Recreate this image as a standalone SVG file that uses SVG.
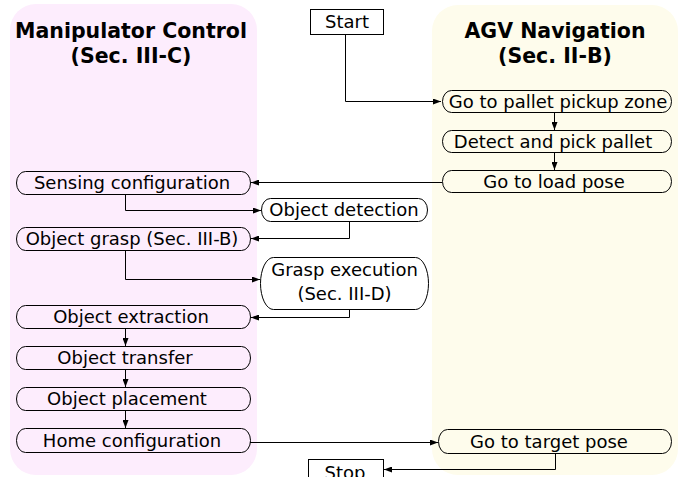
<svg xmlns="http://www.w3.org/2000/svg" width="686" height="477" viewBox="0 0 686 477">
  <style>
    .lane-m { fill: #fdedfd; }
    .lane-a { fill: #fefcec; }
    .title { font-family: "DejaVu Sans", sans-serif; font-size: 20.5px; font-weight: bold; fill: #000; text-anchor: middle; }
    .lbl { font-family: "DejaVu Sans", sans-serif; font-size: 18px; fill: #000; text-anchor: middle; }
    .pill { fill: none; stroke: #000; stroke-width: 1; }
    .box { fill: #fff; stroke: #000; stroke-width: 1; }
    .edge { fill: none; stroke: #000; stroke-width: 1; marker-end: url(#arrow); }
  </style>
  <defs>
    <marker id="arrow" viewBox="0 0 8 6" refX="8" refY="3" markerWidth="8" markerHeight="6" markerUnits="userSpaceOnUse" orient="auto">
      <path d="M0,0 L8,3 L0,6 Z" fill="#000"/>
    </marker>
  </defs>

  <rect width="686" height="477" fill="#fff"/>

  <!-- swimlanes -->
  <g id="lane-manipulator">
    <rect class="lane-m" x="10" y="4" width="247" height="471" rx="26" ry="26"/>
    <text class="title" x="131" y="38">Manipulator Control</text>
    <text class="title" x="131" y="63">(Sec. III-C)</text>
  </g>
  <g id="lane-agv">
    <rect class="lane-a" x="432" y="5" width="246" height="470" rx="26" ry="26"/>
    <text class="title" x="555" y="38">AGV Navigation</text>
    <text class="title" x="555" y="63">(Sec. II-B)</text>
  </g>

  <!-- connectors -->
  <g id="connectors">
    <path class="edge" d="M345.5,34 V101.5 H441"/>
    <path class="edge" d="M554.5,112 V130"/>
    <path class="edge" d="M554.5,152 V170"/>
    <path class="edge" d="M442,182.5 H251"/>
    <path class="edge" d="M125.5,195 V210.5 H261"/>
    <path class="edge" d="M349.5,222 V238.5 H251"/>
    <path class="edge" d="M125.5,251 V279.5 H260"/>
    <path class="edge" d="M349.5,310 V317.5 H251"/>
    <path class="edge" d="M125.5,329 V346"/>
    <path class="edge" d="M125.5,370 V387"/>
    <path class="edge" d="M125.5,411 V428"/>
    <path class="edge" d="M250,442.5 H438"/>
    <path class="edge" d="M555.5,454 V469.5 H384"/>
  </g>

  <!-- nodes -->
  <g id="start">
    <rect class="box" x="310.5" y="9.5" width="73" height="25"/>
    <text class="lbl" x="347" y="28">Start</text>
  </g>
  <g id="go-pallet-pickup">
    <rect class="pill" x="442.5" y="90.5" width="229" height="22" rx="9" ry="11"/>
    <text class="lbl" x="558" y="107.5">Go to pallet pickup zone</text>
  </g>
  <g id="detect-pick-pallet">
    <rect class="pill" x="442.5" y="130.5" width="229" height="22" rx="9" ry="11"/>
    <text class="lbl" x="553" y="147.5">Detect and pick pallet</text>
  </g>
  <g id="go-load-pose">
    <rect class="pill" x="442.5" y="170.5" width="229" height="22" rx="9" ry="11"/>
    <text class="lbl" x="554" y="187.5">Go to load pose</text>
  </g>
  <g id="sensing-configuration">
    <rect class="pill" x="16.5" y="171.5" width="234" height="23" rx="9" ry="11.5"/>
    <text class="lbl" x="132" y="189">Sensing configuration</text>
  </g>
  <g id="object-detection">
    <rect class="pill" x="261.5" y="198.5" width="166" height="23" rx="9" ry="11.5"/>
    <text class="lbl" x="344" y="216">Object detection</text>
  </g>
  <g id="object-grasp">
    <rect class="pill" x="16.5" y="227.5" width="234" height="23" rx="9" ry="11.5"/>
    <text class="lbl" x="132" y="245">Object grasp (Sec. III-B)</text>
  </g>
  <g id="grasp-execution">
    <rect class="pill" x="260.5" y="257.5" width="168" height="52" rx="13" ry="26"/>
    <text class="lbl" x="344.5" y="276">Grasp execution</text>
    <text class="lbl" x="344.5" y="300">(Sec. III-D)</text>
  </g>
  <g id="object-extraction">
    <rect class="pill" x="16.5" y="305.5" width="234" height="23" rx="9" ry="11.5"/>
    <text class="lbl" x="131" y="323">Object extraction</text>
  </g>
  <g id="object-transfer">
    <rect class="pill" x="16.5" y="346.5" width="234" height="23" rx="9" ry="11.5"/>
    <text class="lbl" x="125" y="364">Object transfer</text>
  </g>
  <g id="object-placement">
    <rect class="pill" x="16.5" y="387.5" width="234" height="23" rx="9" ry="11.5"/>
    <text class="lbl" x="127" y="405">Object placement</text>
  </g>
  <g id="home-configuration">
    <rect class="pill" x="16.5" y="428.5" width="234" height="24" rx="9" ry="12"/>
    <text class="lbl" x="132" y="446.5">Home configuration</text>
  </g>
  <g id="go-target-pose">
    <rect class="pill" x="438.5" y="429.5" width="233" height="24" rx="9" ry="12"/>
    <text class="lbl" x="549" y="447.5">Go to target pose</text>
  </g>
  <g id="stop">
    <rect class="box" x="308.5" y="459.5" width="75" height="25"/>
    <text class="lbl" x="345" y="479">Stop</text>
  </g>
</svg>
